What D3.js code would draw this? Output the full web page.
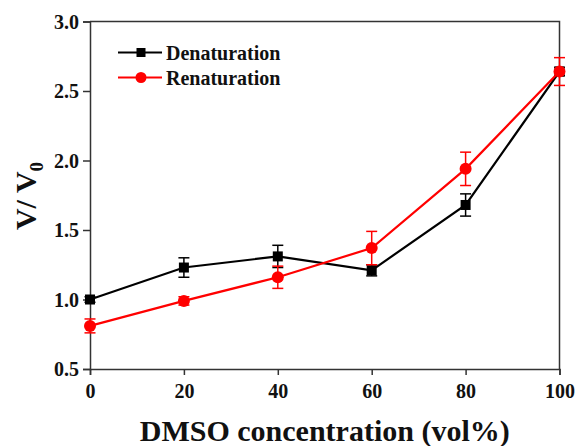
<!DOCTYPE html>
<html>
<head>
<meta charset="utf-8">
<script src="https://cdn.jsdelivr.net/npm/d3@7"></script>
<style>
  body { margin: 0; background: #fff; }
  svg text { font-family: "Liberation Serif", "Times New Roman", serif; font-weight: bold; }
</style>
</head>
<body>
<svg id="chart" width="577" height="446"></svg>
<script>
// values
var dmso = [0, 20, 40, 60, 80, 100];
var denat = [1.00, 1.23, 1.31, 1.21, 1.68, 2.64];
var denatErr = [0.02, 0.07, 0.08, 0.04, 0.08, 0.03];
var renat = [0.81, 0.99, 1.16, 1.37, 1.94, 2.64];
var renatErr = [0.05, 0.03, 0.08, 0.12, 0.12, 0.10];
var xTicks = [0, 20, 40, 60, 80, 100];
var yTicks = [0.5, 1.0, 1.5, 2.0, 2.5, 3.0];

var svg = d3.select("#chart");
var plotL = 90, plotR = 559.5, plotT = 21.5, plotB = 369;
var axisColor = "#333";

var x = d3.scaleLinear().domain([0, 100]).range([plotL, plotR]);
var y = d3.scaleLinear().domain([0.5, 3.0]).range([plotB, plotT]);

// frame on top and right
svg.append("path")
    .attr("d", "M" + plotL + "," + plotT + "H" + plotR + "V" + plotB)
    .attr("fill", "none").attr("stroke", axisColor).attr("stroke-width", 1.5);

var xAxis = svg.append("g")
    .attr("transform", "translate(0," + plotB + ")")
    .call(d3.axisBottom(x).tickValues(xTicks).tickSize(6).tickPadding(8).tickFormat(d3.format("d")));
var yAxis = svg.append("g")
    .attr("transform", "translate(" + plotL + ",0)")
    .call(d3.axisLeft(y).tickValues(yTicks).tickSize(7).tickPadding(4).tickFormat(d3.format(".1f")));

[xAxis, yAxis].forEach(function(a) {
    a.select(".domain").attr("stroke", axisColor).attr("stroke-width", 1.5);
    a.selectAll(".tick line").attr("stroke", axisColor).attr("stroke-width", 1.5);
    a.selectAll(".tick text").attr("fill", "#111").style("font-size", "20px")
        .style("font-family", "'Liberation Serif', serif").style("font-weight", "bold");
});
xAxis.selectAll(".tick text").attr("dy", "0.75em");
yAxis.selectAll(".tick text").attr("dy", "0.34em");

// axis titles
svg.append("text")
    .attr("x", (plotL + plotR) / 2).attr("y", 441)
    .attr("text-anchor", "middle").style("font-size", "30px").attr("fill", "#111")
    .text("DMSO concentration (vol%)");

var yt = svg.append("text")
    .attr("transform", "translate(36,196) rotate(-90)")
    .attr("text-anchor", "middle").style("font-size", "30px").attr("fill", "#111");
yt.append("tspan").text("V/ V");
yt.append("tspan").attr("dy", 7).style("font-size", "19px").text("0");

function drawSeries(vals, errs, color, shape) {
    var pts = dmso.map(function(d, i) { return { x: d, y: vals[i], e: errs[i] }; });
    var line = d3.line().x(function(d) { return x(d.x); }).y(function(d) { return y(d.y); });
    svg.append("path").datum(pts)
        .attr("d", line).attr("fill", "none").attr("stroke", color).attr("stroke-width", 2.2);

    var eb = svg.append("g").attr("stroke", color).attr("stroke-width", 1.5);
    pts.forEach(function(d) {
        var cx = x(d.x), y1 = y(d.y - d.e), y2 = y(d.y + d.e);
        eb.append("line").attr("x1", cx).attr("x2", cx).attr("y1", y1).attr("y2", y2);
        eb.append("line").attr("x1", cx - 5.5).attr("x2", cx + 5.5).attr("y1", y1).attr("y2", y1);
        eb.append("line").attr("x1", cx - 5.5).attr("x2", cx + 5.5).attr("y1", y2).attr("y2", y2);
    });

    if (shape == "square") {
        svg.selectAll(null).data(pts).enter().append("rect")
            .attr("x", function(d) { return x(d.x) - 5; })
            .attr("y", function(d) { return y(d.y) - 5; })
            .attr("width", 10).attr("height", 10).attr("fill", color);
    } else {
        svg.selectAll(null).data(pts).enter().append("circle")
            .attr("cx", function(d) { return x(d.x); })
            .attr("cy", function(d) { return y(d.y); })
            .attr("r", 6).attr("fill", color);
    }
}

drawSeries(denat, denatErr, "#000", "square");
drawSeries(renat, renatErr, "#f00", "circle");

// legend
var legend = [
    { name: "Denaturation", color: "#000", shape: "square", y: 52.5 },
    { name: "Renaturation", color: "#f00", shape: "circle", y: 77.5 }
];
legend.forEach(function(l) {
    var g = svg.append("g");
    g.append("line").attr("x1", 118).attr("x2", 162).attr("y1", l.y).attr("y2", l.y)
        .attr("stroke", l.color).attr("stroke-width", 2.2);
    if (l.shape == "square") {
        g.append("rect").attr("x", 136.5).attr("y", l.y - 4.5).attr("width", 9).attr("height", 9).attr("fill", l.color);
    } else {
        g.append("circle").attr("cx", 141).attr("cy", l.y).attr("r", 5.5).attr("fill", l.color);
    }
    g.append("text").attr("x", 166).attr("y", l.y + 7)
        .style("font-size", "20px").attr("fill", "#111").text(l.name);
});
</script>
</body>
</html>
